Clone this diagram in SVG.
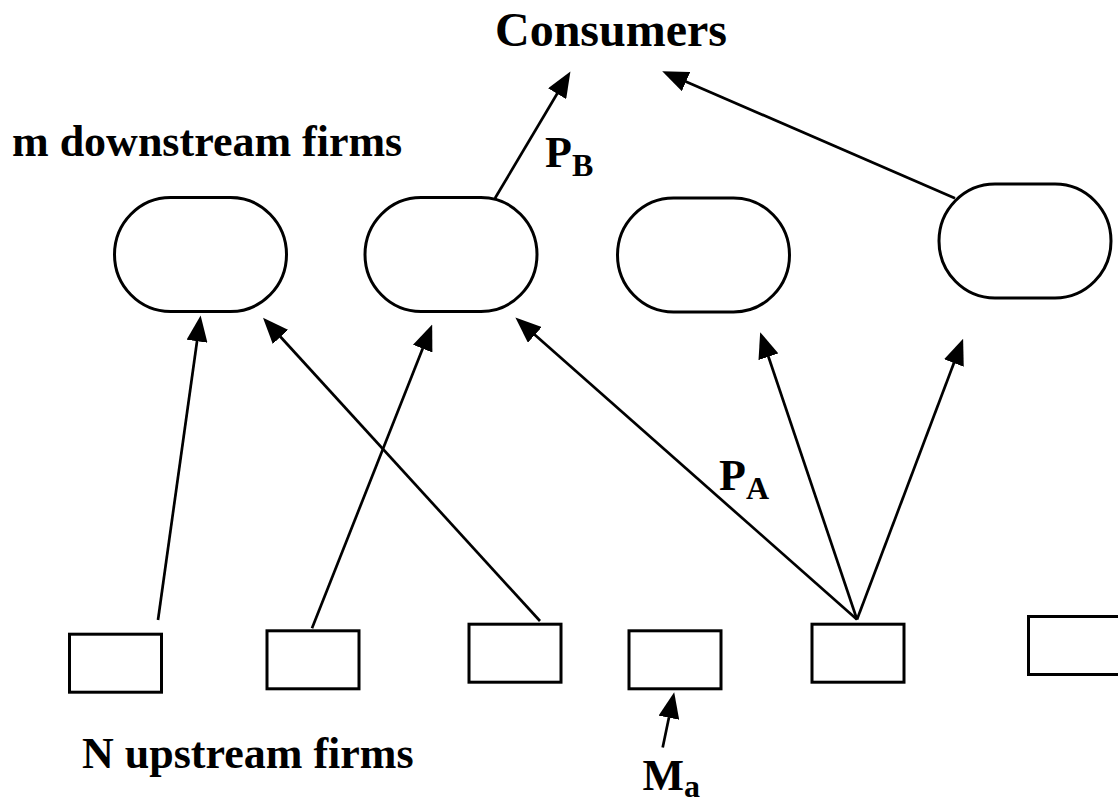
<svg xmlns="http://www.w3.org/2000/svg" width="1118" height="800" viewBox="0 0 1118 800">
  <style>
    .lbl { font-family: "Liberation Serif", "Times New Roman", serif; font-weight: bold; fill: #000; }
    .big { font-size: 44px; }
    .title { font-size: 48px; }
    .sub { font-size: 32px; }
    .firm { fill: #fff; stroke: #000; stroke-width: 3; }
    .flow { stroke: #000; stroke-width: 2.7; fill: none; marker-end: url(#head); }
    .plain { stroke: #000; stroke-width: 2.7; fill: none; }
  </style>
  <defs>
    <!-- solid triangular arrowhead; the line stops at its base -->
    <marker id="head" viewBox="0 0 26 21" markerWidth="26" markerHeight="21" refX="0.5" refY="10.5" orient="auto" markerUnits="userSpaceOnUse">
      <path d="M0,0 L26,10.5 L0,21 Z" fill="#000"/>
    </marker>
  </defs>
  <rect width="1118" height="800" fill="#fff"/>

  <!-- labels -->
  <text class="lbl title" x="495" y="46">Consumers</text>
  <text class="lbl big" x="12" y="156">m downstream firms</text>
  <text class="lbl big" x="82" y="768">N upstream firms</text>

  <!-- downstream firms -->
  <g id="down1"><rect class="firm" x="114.5" y="197.5" width="172" height="114" rx="56" ry="57"/></g>
  <g id="down2"><rect class="firm" x="365" y="197.5" width="172" height="114" rx="56" ry="57"/></g>
  <g id="down3"><rect class="firm" x="617.5" y="198" width="172" height="114" rx="56" ry="57"/></g>
  <g id="down4"><rect class="firm" x="939" y="184" width="172" height="114" rx="56" ry="57"/></g>

  <!-- upstream firms -->
  <g id="up1"><rect class="firm" x="69.5" y="634.2" width="92" height="58"/></g>
  <g id="up2"><rect class="firm" x="267" y="630.8" width="92" height="58"/></g>
  <g id="up3"><rect class="firm" x="469" y="624.2" width="92" height="58"/></g>
  <g id="up4"><rect class="firm" x="629" y="630.8" width="92" height="58"/></g>
  <g id="up5"><rect class="firm" x="812" y="624.2" width="92" height="58"/></g>
  <g id="up6"><rect class="firm" x="1028.5" y="616.5" width="120" height="58"/></g>

  <!-- connectors -->
  <g id="connectors">
    <line class="flow" x1="158" y1="620" x2="197.1" y2="340.7"/>
    <line class="flow" x1="540" y1="621" x2="280.2" y2="336.5"/>
    <line class="flow" x1="312" y1="628.3" x2="422.8" y2="348.2"/>
    <line class="flow" x1="857" y1="619.5" x2="534.5" y2="334.5"/>
    <line class="flow" x1="857" y1="619.5" x2="768.3" y2="356.3"/>
    <line class="flow" x1="857" y1="619.5" x2="954.1" y2="362.6"/>
    <line class="flow" x1="495" y1="198.3" x2="557.4" y2="93.3"/>
    <line class="flow" x1="955" y1="198.3" x2="685.6" y2="81.4"/>
    <line class="flow" x1="662.7" y1="747.5" x2="669" y2="717.2"/>
  </g>

  <!-- price and cost labels -->
  <text class="lbl big" x="545" y="167">P<tspan class="sub" dy="9">B</tspan></text>
  <text class="lbl big" x="719" y="490">P<tspan class="sub" dy="9">A</tspan></text>
  <text class="lbl big" x="642.5" y="790">M<tspan class="sub" dy="7">a</tspan></text>
</svg>
